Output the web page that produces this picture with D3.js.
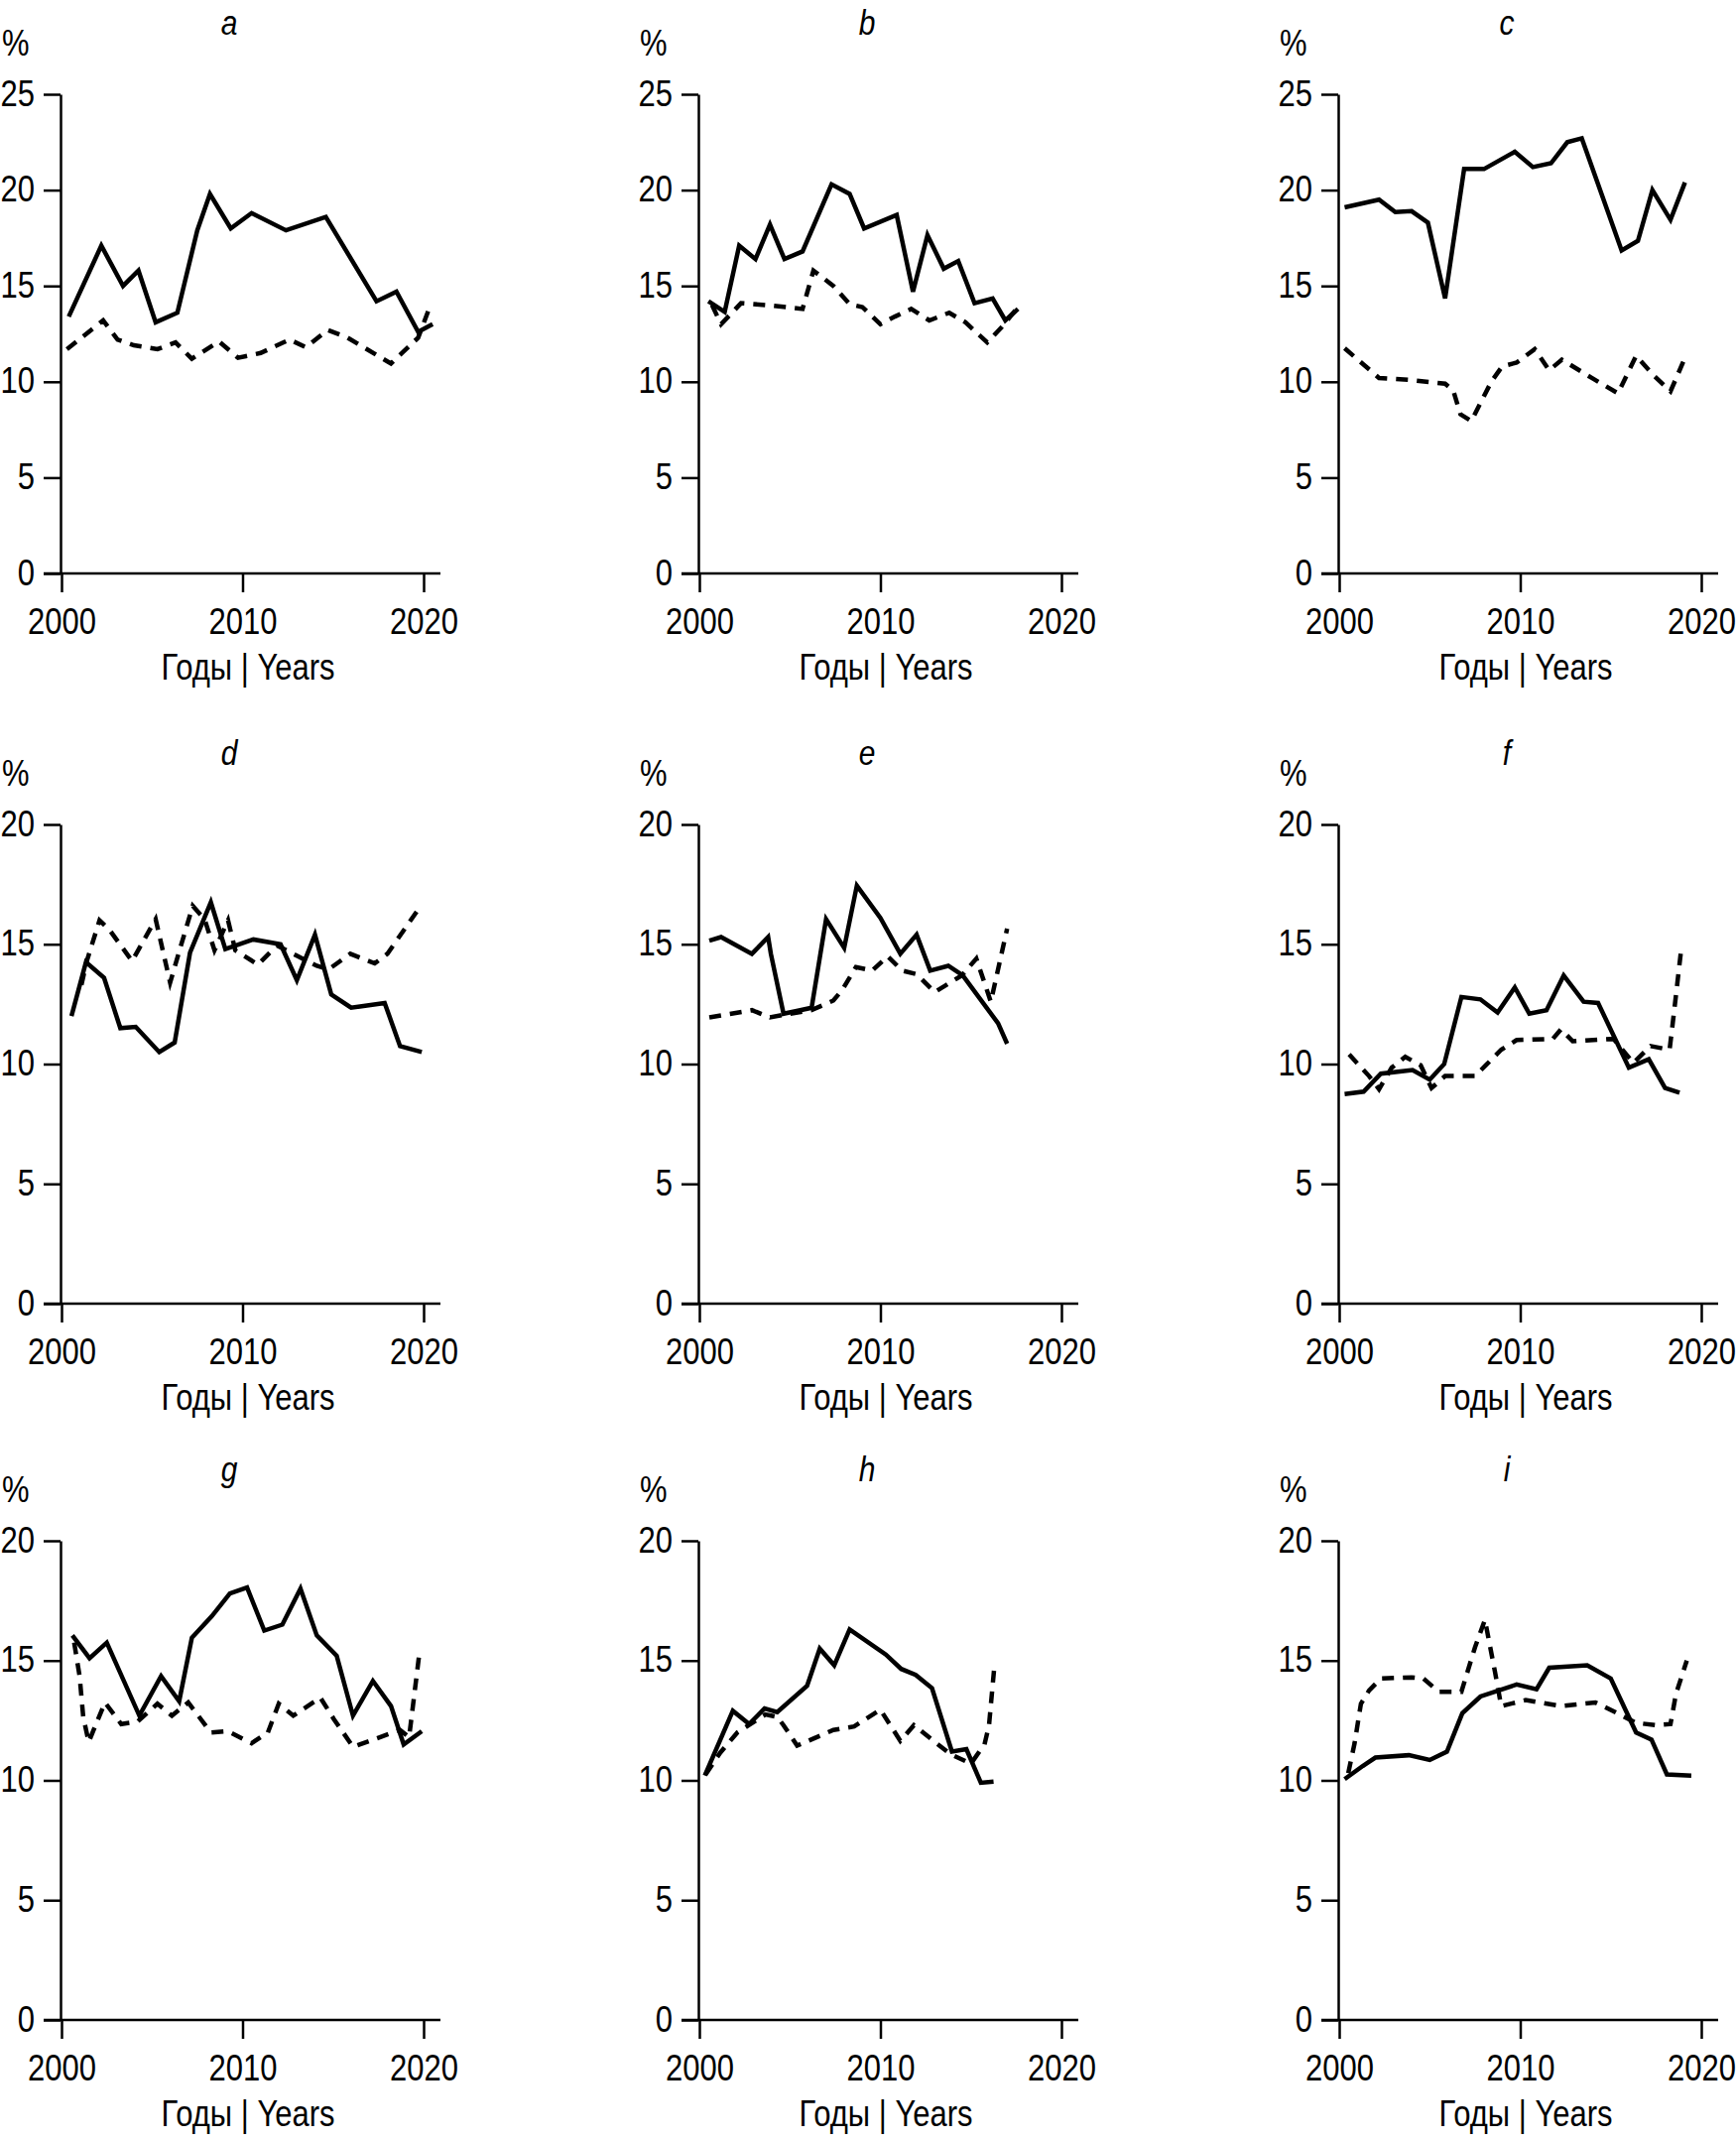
<!DOCTYPE html>
<html>
<head>
<meta charset="utf-8">
<script src="https://cdn.jsdelivr.net/npm/d3@7"></script>
<style>
  body { margin: 0; background: #fff; }
  text { font-family: "Liberation Sans", Arial, sans-serif; fill: #000; }
</style>
</head>
<body>
<svg id="chart"></svg>
<script>
// [year, %] pairs
const aSolid = [[2000.4,13.4],[2002.2,17.1],[2003.4,15.0],[2004.25,15.8],[2005.2,13.1],[2006.4,13.6],[2007.5,17.9],[2008.2,19.8],[2009.35,18.0],[2010.5,18.8],[2012.4,17.9],[2014.6,18.6],[2017.4,14.2],[2018.5,14.7],[2019.7,12.6],[2020.5,13.0]];
const aDash = [[2000.3,11.7],[2002.3,13.2],[2003.1,12.2],[2004.0,11.9],[2005.3,11.7],[2006.3,12.05],[2007.2,11.2],[2008.7,12.1],[2009.75,11.25],[2011.0,11.5],[2012.6,12.2],[2013.5,11.8],[2014.7,12.7],[2015.8,12.3],[2018.2,10.95],[2019.7,12.3],[2020.3,13.8]];
const bSolid = [[2000.5,14.2],[2001.4,13.65],[2002.2,17.1],[2003.1,16.4],[2003.9,18.2],[2004.7,16.4],[2005.7,16.8],[2007.3,20.3],[2008.3,19.8],[2009.1,18.0],[2010.9,18.7],[2011.8,14.7],[2012.6,17.65],[2013.5,15.9],[2014.3,16.3],[2015.2,14.1],[2016.2,14.35],[2016.9,13.2],[2017.6,13.8]];
const bDash = [[2000.7,14.0],[2001.2,13.0],[2002.3,14.1],[2003.7,14.0],[2005.7,13.8],[2006.3,15.8],[2007.4,15.0],[2008.3,14.05],[2009.0,13.9],[2010.0,13.0],[2010.8,13.4],[2011.7,13.8],[2012.7,13.2],[2013.8,13.6],[2014.7,13.1],[2015.9,12.05],[2016.7,12.85],[2017.6,13.9]];
const cSolid = [[2000.3,19.1],[2002.2,19.5],[2003.1,18.85],[2004.0,18.9],[2004.9,18.3],[2005.85,14.35],[2006.9,21.1],[2008.0,21.1],[2009.7,22.0],[2010.7,21.2],[2011.7,21.4],[2012.6,22.5],[2013.4,22.7],[2015.6,16.85],[2016.5,17.35],[2017.3,20.0],[2018.3,18.45],[2019.1,20.4]];
const cDash = [[2000.3,11.75],[2002.2,10.2],[2003.8,10.1],[2005.85,9.9],[2006.3,9.55],[2006.7,8.3],[2007.3,7.95],[2008.4,10.0],[2009.0,10.8],[2009.8,11.0],[2010.8,11.7],[2011.6,10.6],[2012.3,11.15],[2013.95,10.2],[2015.4,9.4],[2016.4,11.35],[2017.35,10.35],[2018.3,9.5],[2019.1,11.25]];
const dSolid = [[2000.55,12.0],[2001.35,14.25],[2002.35,13.6],[2003.25,11.5],[2004.1,11.55],[2005.4,10.5],[2006.25,10.9],[2007.1,14.65],[2008.25,16.75],[2009.05,14.8],[2010.6,15.2],[2012.1,15.0],[2013.0,13.5],[2014.0,15.4],[2014.9,12.9],[2016.0,12.35],[2017.85,12.55],[2018.7,10.75],[2019.9,10.5]];
const dDash = [[2001.1,13.3],[2001.4,14.3],[2002.1,16.0],[2002.65,15.6],[2003.9,14.3],[2005.2,16.05],[2006.0,13.4],[2006.6,14.95],[2007.25,16.6],[2007.9,16.05],[2008.45,14.75],[2009.2,16.0],[2009.6,14.75],[2010.85,14.15],[2011.9,14.95],[2013.05,14.5],[2014.1,14.1],[2014.75,13.95],[2015.95,14.6],[2017.3,14.2],[2018.0,14.6],[2019.7,16.45]];
const eSolid = [[2000.55,15.15],[2001.2,15.3],[2002.9,14.6],[2003.8,15.3],[2003.95,14.6],[2004.65,12.1],[2006.2,12.35],[2007.0,16.05],[2008.0,14.85],[2008.7,17.45],[2010.0,16.1],[2011.1,14.6],[2012.0,15.4],[2012.75,13.9],[2013.75,14.1],[2014.55,13.7],[2016.5,11.7],[2017.0,10.85]];
const eDash = [[2000.55,11.95],[2002.9,12.25],[2003.9,11.95],[2005.0,12.1],[2006.2,12.25],[2007.4,12.65],[2007.9,13.1],[2008.65,14.05],[2009.55,13.9],[2010.4,14.5],[2011.2,13.9],[2012.0,13.75],[2013.0,13.0],[2014.5,13.7],[2015.3,14.4],[2016.1,12.6],[2017.0,15.65]];
const fSolid = [[2000.3,8.75],[2001.35,8.85],[2002.3,9.6],[2004.05,9.75],[2005.0,9.35],[2005.8,10.0],[2006.75,12.8],[2007.8,12.7],[2008.75,12.15],[2009.7,13.2],[2010.5,12.1],[2011.45,12.25],[2012.4,13.7],[2013.5,12.6],[2014.3,12.55],[2016.0,9.85],[2017.1,10.2],[2018.0,9.0],[2018.8,8.8]];
const fDash = [[2000.55,10.4],[2001.65,9.5],[2002.2,8.95],[2002.9,9.85],[2003.65,10.3],[2004.5,9.95],[2005.1,9.0],[2005.85,9.5],[2007.5,9.5],[2008.1,9.95],[2008.95,10.6],[2009.8,11.0],[2011.8,11.05],[2012.25,11.45],[2012.9,10.95],[2015.15,11.05],[2016.25,10.05],[2017.2,10.75],[2018.25,10.6],[2018.5,12.2],[2018.9,14.85]];
const gSolid = [[2000.6,16.05],[2001.55,15.1],[2002.5,15.75],[2004.3,12.7],[2005.5,14.35],[2006.5,13.3],[2007.2,15.95],[2008.3,16.85],[2009.3,17.8],[2010.25,18.05],[2011.2,16.25],[2012.2,16.5],[2013.2,18.0],[2014.1,16.05],[2015.2,15.2],[2016.1,12.7],[2017.2,14.15],[2018.2,13.1],[2018.9,11.5],[2019.9,12.05]];
const gDash = [[2000.7,15.75],[2001.0,14.35],[2001.2,12.65],[2001.5,11.6],[2002.4,13.25],[2003.3,12.35],[2004.2,12.45],[2005.3,13.2],[2006.1,12.7],[2007.0,13.25],[2008.25,12.0],[2009.2,12.05],[2010.5,11.55],[2011.4,12.0],[2012.0,13.2],[2012.8,12.7],[2014.3,13.45],[2015.05,12.55],[2016.1,11.4],[2017.4,11.75],[2018.7,12.1],[2019.2,11.8],[2019.75,15.2]];
const hSolid = [[2000.3,10.2],[2001.85,12.9],[2002.75,12.35],[2003.6,13.0],[2004.3,12.85],[2005.95,13.95],[2006.65,15.5],[2007.45,14.8],[2008.3,16.3],[2010.3,15.25],[2011.15,14.65],[2011.95,14.4],[2012.85,13.85],[2013.95,11.2],[2014.75,11.3],[2015.55,9.9],[2016.25,9.95]];
const hDash = [[2000.35,10.25],[2001.15,11.15],[2002.1,12.0],[2003.65,12.75],[2004.3,12.65],[2004.65,12.3],[2005.4,11.45],[2007.4,12.1],[2008.55,12.25],[2010.0,12.95],[2011.1,11.65],[2011.85,12.3],[2013.85,11.1],[2015.0,10.7],[2015.75,11.5],[2016.0,12.3],[2016.3,14.8]];
const iSolid = [[2000.3,10.05],[2001.3,10.6],[2002.0,10.95],[2003.85,11.05],[2005.0,10.85],[2005.95,11.2],[2006.8,12.8],[2007.8,13.5],[2009.8,14.0],[2010.9,13.8],[2011.6,14.7],[2013.7,14.8],[2015.0,14.25],[2016.4,12.0],[2017.25,11.7],[2018.1,10.25],[2019.45,10.2]];
const iDash = [[2000.5,10.3],[2000.85,11.55],[2001.2,13.2],[2001.65,13.75],[2002.3,14.25],[2004.0,14.3],[2004.65,14.25],[2005.5,13.7],[2006.75,13.7],[2007.5,15.55],[2008.05,16.7],[2008.6,14.55],[2008.95,13.1],[2010.3,13.35],[2012.25,13.1],[2014.15,13.25],[2015.25,12.85],[2016.4,12.4],[2017.5,12.3],[2018.3,12.35],[2018.6,13.6],[2019.2,15.0]];

const panelLetters = ['a', 'b', 'c', 'd', 'e', 'f', 'g', 'h', 'i'];
const solidSeries = [aSolid, bSolid, cSolid, dSolid, eSolid, fSolid, gSolid, hSolid, iSolid];
const dashSeries = [aDash, bDash, cDash, dDash, eDash, fDash, gDash, hDash, iDash];
const yMaxByRow = [25, 20, 20];
const xTicks = [2000, 2010, 2020];
const xLabel = 'Годы | Years';
const yLabel = '%';

const W = 1750, H = 2158;
const colX = [0, 643, 1288];
const rowBase = [578, 1314, 2036];
const plotH = 483;
const fs = 31, sy = 1.2;

const svg = d3.select('#chart').attr('width', W).attr('height', H);

const x = d3.scaleLinear().domain([2000, 2020]).range([62, 427]);
const line = d3.line();

panelLetters.forEach((letter, i) => {
  const row = Math.floor(i / 3), col = i % 3;
  const yMax = yMaxByRow[row];
  const y = d3.scaleLinear().domain([0, yMax]).range([plotH, 0]);
  const g = svg.append('g')
    .attr('transform', `translate(${colX[col]},${rowBase[row] - plotH})`);

  // y axis
  const yAxis = d3.axisLeft(y).tickValues(d3.range(0, yMax + 1, 5)).tickSize(17).tickSizeOuter(0);
  const ya = g.append('g').attr('transform', `translate(${x(2000) - 1},0)`).call(yAxis);
  ya.select('.domain').attr('stroke-width', 2.5);
  ya.selectAll('.tick line').attr('stroke-width', 2.5);
  ya.selectAll('.tick text')
    .attr('x', null).attr('dy', null)
    .attr('font-size', fs).attr('text-anchor', 'end')
    .attr('transform', `translate(-26,11) scale(1,${sy})`);

  // x axis
  const xAxis = d3.axisBottom(x).tickValues(xTicks).tickFormat(d3.format('d')).tickSize(19).tickSizeOuter(0);
  const xa = g.append('g').attr('transform', `translate(0,${plotH})`).call(xAxis);
  xa.select('.domain').attr('d', `M${x(2000) - 18},0H${x(2020) + 17}`).attr('stroke-width', 2.5);
  xa.selectAll('.tick line').attr('stroke-width', 2.5);
  xa.selectAll('.tick text')
    .attr('y', null).attr('dy', null)
    .attr('font-size', fs)
    .attr('transform', `translate(0,61) scale(1,${sy})`);

  g.append('text')
    .attr('font-size', fs).attr('text-anchor', 'middle')
    .attr('transform', `translate(250,${plotH + 107}) scale(1,${sy})`)
    .text(xLabel);

  g.append('text')
    .attr('font-size', fs)
    .attr('transform', `translate(2,-39) scale(1,${sy})`)
    .text(yLabel);

  // panel letter; kept a little lower so its box stays inside the page
  g.append('text')
    .attr('font-size', 30).attr('font-style', 'italic').attr('text-anchor', 'middle')
    .attr('transform', `translate(231,-60) scale(1,1.15)`)
    .text(letter);

  line.x(d => x(d[0])).y(d => y(d[1]));

  g.append('path')
    .datum(solidSeries[i])
    .attr('fill', 'none').attr('stroke', '#000').attr('stroke-width', 4.5)
    .attr('d', line);

  g.append('path')
    .datum(dashSeries[i])
    .attr('fill', 'none').attr('stroke', '#000').attr('stroke-width', 4.5)
    .attr('stroke-dasharray', '12,9')
    .attr('d', line);
});
</script>
</body>
</html>
